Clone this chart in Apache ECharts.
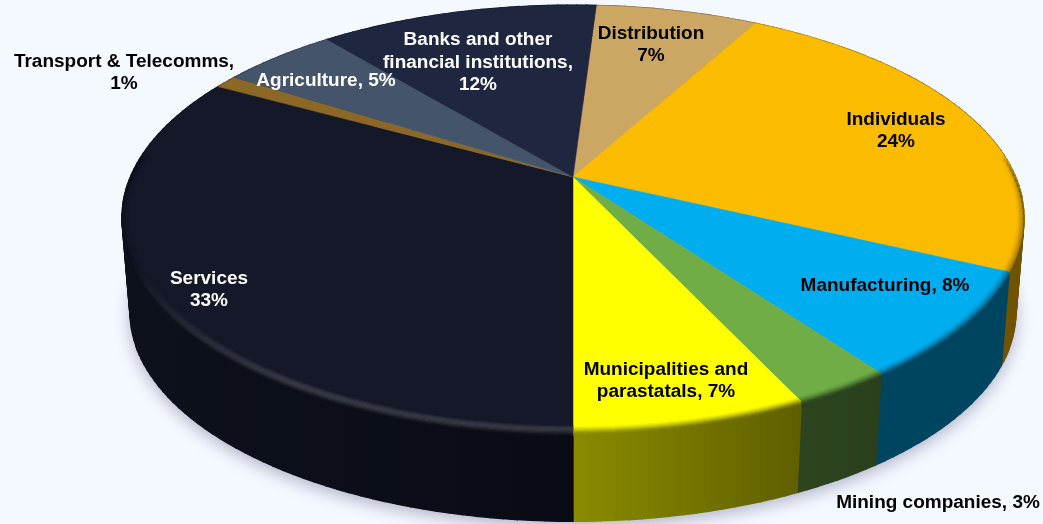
<!DOCTYPE html>
<html>
<head>
<meta charset="utf-8">
<style>
html,body{margin:0;padding:0;background:#f4f8ff;overflow:hidden}
#chart{width:1043px;height:524px}
</style>
<script src="https://cdn.jsdelivr.net/npm/echarts@6/dist/echarts.min.js"></script>
</head>
<body>
<div id="chart"></div>
<script>
// Loan book by sector, clockwise from the top of the disc.
const categories = ['Distribution', 'Individuals', 'Manufacturing', 'Mining companies',
  'Municipalities and\nparastatals', 'Services', 'Transport & Telecomms', 'Agriculture',
  'Banks and other\nfinancial institutions'];
const shares = [7, 24, 8, 3, 7, 33, 1, 5, 12];
const labelJoins = ['\n', '\n', ', ', ', ', ', ', '\n', ',\n', ', ', ',\n'];

// Surface colour and the left/right shades of the outer wall.
const topColors = ['#cca763', '#fbbc00', '#00aeef', '#70ad47', '#ffff00', '#141828', '#8b6826', '#44546a', '#1f2640'];
const wallLeft = ['#6b5734', '#8a6700', '#00455f', '#2d441f', '#8b8b00', '#0d111c', '#4a3713', '#242c38', '#101422'];
const wallRight = ['#6b5734', '#6e5200', '#00455f', '#2a401d', '#5f5f00', '#090c15', '#4a3713', '#242c38', '#101422'];
const labelColors = ['#000', '#000', '#000', '#000', '#000', '#fff', '#000', '#fff', '#fff'];
const labelAnchors = [[651, 45], [896, 131], [885, 286], [938, 503], [666, 381], [209, 290], [124, 73], [326, 81], [478, 63]];

// Perspective projection of the disc: top plane, bottom plane, then rim band widths.
const CX = 573, APEX_Y = 177, SPREAD = 442.6, DEPTH = 205, TILT = 0.1925;
const FLOOR_SCALE = 0.982, FLOOR_Y = 272, RIM_INSET = 0.018, RIM_DROP = 0.05, RIM_STEPS = 9, SEG_DEG = 1.5;
const total = shares.reduce((a, b) => a + b, 0);
const rad = d => d * Math.PI / 180;

// Services starts exactly at the front of the disc; everything else follows from that.
const firstAngle = 180 - shares.slice(0, categories.indexOf('Services')).reduce((a, b) => a + b, 0) / total * 360;

function project(deg, radius, floor) {
  const u = Math.sin(rad(deg)) * radius, v = -Math.cos(rad(deg)) * radius, w = 1 - TILT * v;
  const s = floor ? FLOOR_SCALE : 1, y0 = floor ? FLOOR_Y : APEX_Y;
  return [CX + s * SPREAD * u / w, y0 + s * DEPTH * v / w];
}
function sliceSpan(index) {
  const before = shares.slice(0, index).reduce((a, b) => a + b, 0);
  const start = firstAngle + before / total * 360;
  return [start, start + shares[index] / total * 360];
}
function arcAngles(a0, a1) {
  const n = Math.max(2, Math.ceil((a1 - a0) / SEG_DEG)), out = [];
  for (let i = 0; i <= n; i++) out.push(a0 + (a1 - a0) * i / n);
  return out;
}
function arcXRange(angles) {
  const xs = angles.map(a => project(a, 1, false)[0]);
  return [Math.min(...xs), Math.max(...xs)];
}
// Point on the bevel: p runs from inside the top surface, over the edge, onto the wall.
function rimPoint(deg, p) {
  const split = 0.6;
  if (p <= split) return project(deg, 1 - RIM_INSET * (1 - p / split), false);
  const t = RIM_DROP * (p - split) / (1 - split);
  const a = project(deg, 1, false), b = project(deg, 1, true);
  return [a[0] + (b[0] - a[0]) * t, a[1] + (b[1] - a[1]) * t];
}
function hexRgb(h) {
  return [1, 3, 5].map(i => parseInt(h.substr(i, 2), 16));
}
function mix(a, b, t) {
  return a.map((c, i) => c + (b[i] - c) * t);
}
const css = c => 'rgb(' + c.map(Math.round).join(',') + ')';
const clamp01 = t => Math.max(0, Math.min(1, t));

// Soft shadow under the disc, from the bottom-plane outline.
function renderShadow() {
  const pts = arcAngles(0, 360).map(a => project(a, 1, true));
  return {
    type: 'polygon',
    shape: { points: pts },
    style: { fill: '#c9cbda', shadowColor: 'rgba(80,80,120,0.42)', shadowBlur: 16, shadowOffsetY: 5 }
  };
}

// Swept quads give the tangent silhouette at the sides; one polygon on top keeps the face seamless.
function renderWall(params, api) {
  const i = params.dataIndex;
  const [a0, a1] = sliceSpan(api.value(1));
  const angles = arcAngles(a0, a1);
  const [x0, x1] = arcXRange(angles);
  const shade = () => ({
    type: 'linear', global: true, x: x0, y: 0, x2: x1, y2: 0,
    colorStops: [{ offset: 0, color: wallLeft[i] }, { offset: 1, color: wallRight[i] }]
  });
  const children = [];
  for (let k = 0; k + 1 < angles.length; k++) {
    children.push({
      type: 'polygon',
      shape: {
        points: [project(angles[k], 1, false), project(angles[k + 1], 1, false),
          project(angles[k + 1], 1, true), project(angles[k], 1, true)]
      },
      style: { fill: shade(), stroke: shade(), lineWidth: 1.4 }
    });
  }
  children.push({
    type: 'polygon',
    shape: { points: angles.map(a => project(a, 1, false)).concat(angles.slice().reverse().map(a => project(a, 1, true))) },
    style: { fill: shade() }
  });
  return { type: 'group', children };
}

// The flat top of a slice, then a soft bevel along its outer edge.
function renderTop(params, api) {
  const i = params.dataIndex;
  const [a0, a1] = sliceSpan(api.value(1));
  const angles = arcAngles(a0, a1);
  const children = [{
    type: 'polygon',
    shape: { points: [[CX, APEX_Y]].concat(angles.map(a => project(a, 1, false))) },
    style: { fill: topColors[i], stroke: topColors[i], lineWidth: 0.5 }
  }];

  const topRgb = hexRgb(topColors[i]);
  const leftRgb = hexRgb(wallLeft[i]), rightRgb = hexRgb(wallRight[i]);
  const dark = topRgb[0] + topRgb[1] + topRgb[2] < 150;
  const [x0, x1] = arcXRange(angles);
  for (let k = 0; k + 1 < angles.length; k++) {
    const mid = (angles[k] + angles[k + 1]) / 2;
    const v = -Math.cos(rad(mid));
    const facing = clamp01((v + 0.12) / 0.2);
    if (facing <= 0) continue;
    const across = clamp01((project(mid, 1, false)[0] - x0) / Math.max(1, x1 - x0));
    const wallHere = mix(leftRgb, rightRgb, across);
    for (let s = 0; s < RIM_STEPS; s++) {
      const p0 = s / RIM_STEPS, p1 = (s + 1) / RIM_STEPS, p = (p0 + p1) / 2;
      let colour = mix(topRgb, wallHere, p * p * (3 - 2 * p));
      if (dark) colour = mix(colour, [255, 255, 255], 0.17 * Math.sin(Math.PI * p) * clamp01((v - 0.4) / 0.45));
      children.push({
        type: 'polygon',
        shape: {
          points: [rimPoint(angles[k], p0), rimPoint(angles[k + 1], p0),
            rimPoint(angles[k + 1], p1), rimPoint(angles[k], p1)]
        },
        style: { fill: css(colour), stroke: css(colour), lineWidth: 0.4, opacity: facing }
      });
    }
  }
  return { type: 'group', children };
}

function renderLabel(params, api) {
  const i = params.dataIndex;
  return {
    type: 'text',
    x: labelAnchors[i][0], y: labelAnchors[i][1],
    scaleX: 1.055,
    style: {
      text: categories[i] + labelJoins[i] + api.value(0) + '%',
      x: 0, y: 0,
      align: 'center', verticalAlign: 'middle',
      fill: labelColors[i], lineHeight: 22.5,
      font: 'bold 18px "Liberation Sans", Arial, sans-serif'
    }
  };
}

const sliceRows = shares.map((v, i) => [v, i]);
const chart = echarts.init(document.getElementById('chart'), null, { renderer: 'canvas' });
chart.setOption({
  backgroundColor: '#f4f8ff',
  animation: false,
  series: [
    { type: 'custom', coordinateSystem: 'none', silent: true, z: 1, renderItem: renderShadow, data: [[0]] },
    { type: 'custom', coordinateSystem: 'none', silent: true, z: 2, renderItem: renderWall, data: sliceRows },
    { type: 'custom', coordinateSystem: 'none', silent: true, z: 3, renderItem: renderTop, data: sliceRows },
    { type: 'custom', coordinateSystem: 'none', silent: true, z: 4, renderItem: renderLabel, data: sliceRows }
  ]
});
</script>
</body>
</html>
